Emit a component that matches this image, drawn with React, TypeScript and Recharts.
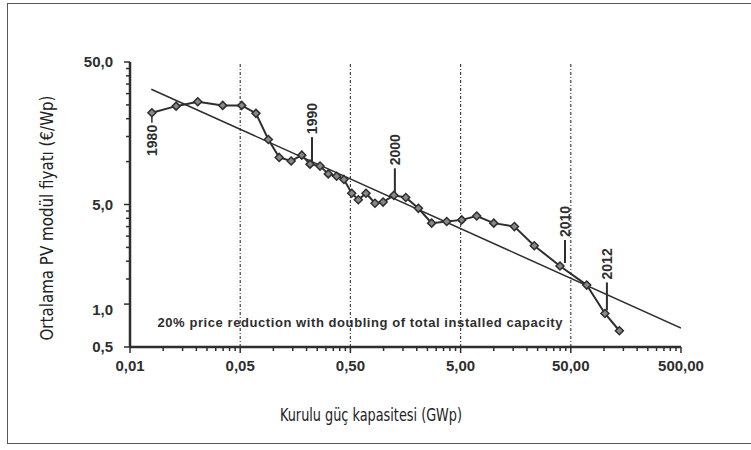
import React from "react";
import { LineChart, Line, XAxis, YAxis, ReferenceLine, LabelList } from "recharts";

// installed PV capacity (GWp) vs. average module price (€/Wp), 1980–2013
const years = [
  1980, 1981, 1982, 1983, 1984, 1985, 1986, 1987, 1988, 1989, 1990, 1991,
  1992, 1993, 1994, 1995, 1996, 1997, 1998, 1999, 2000, 2001, 2002, 2003,
  2004, 2005, 2006, 2007, 2008, 2009, 2010, 2011, 2012, 2013,
];
const capacity = [
  0.0079, 0.0131, 0.0206, 0.0347, 0.0516, 0.0695, 0.09, 0.113, 0.145, 0.181,
  0.215, 0.265, 0.315, 0.375, 0.437, 0.514, 0.59, 0.693, 0.836, 0.99, 1.24,
  1.59, 2.07, 2.73, 3.74, 5.12, 7.0, 10.0, 15.4, 23.3, 39.9, 69.7, 102, 138,
];
const price = [
  22.0, 24.5, 26.3, 24.8, 24.8, 21.8, 14.3, 10.7, 10.1, 11.1, 9.6, 9.3, 8.2,
  7.9, 7.5, 6.0, 5.4, 6.0, 5.1, 5.2, 5.8, 5.6, 4.7, 3.7, 3.8, 3.9, 4.15, 3.7,
  3.5, 2.57, 1.85, 1.36, 0.86, 0.65,
];

// learning-curve fit line
const trendCapacity = [0.0078, 500];
const trendPrice = [32.2, 0.68];

const xTicks = [
  0.005, 0.01, 0.015, 0.02, 0.025, 0.03, 0.035, 0.04, 0.045,
  0.05, 0.1, 0.15, 0.2, 0.25, 0.3, 0.35, 0.4, 0.45,
  0.5, 1, 1.5, 2, 2.5, 3, 3.5, 4, 4.5,
  5, 10, 15, 20, 25, 30, 35, 40, 45,
  50, 100, 150, 200, 250, 300, 350, 400, 450, 500,
];
const xMajor = [0.005, 0.05, 0.5, 5, 50, 500];
const xLabels = ["0,01", "0,05", "0,50", "5,00", "50,00", "500,00"];
const xGrid = [0.05, 0.5, 5, 50];

const yTicks = [
  0.5, 1, 1.5, 2, 2.5, 3, 3.5, 4, 4.5,
  5, 10, 15, 20, 25, 30, 35, 40, 45, 50,
];
const yMajor = [0.5, 1, 5, 50];
const yLabels = ["0,5", "1,0", "5,0", "50,0"];

const marked = [
  { year: 1980, above: false, dx: 0, gap: 12 },
  { year: 1990, above: true, dx: 2, gap: 30 },
  { year: 2000, above: true, dx: 1, gap: 30 },
  { year: 2010, above: true, dx: 5, gap: 29 },
  { year: 2012, above: true, dx: 2, gap: 34 },
];

const series = years.map((year, i) => ({ year, cap: capacity[i], price: price[i] }));
const trend = trendCapacity.map((cap, i) => ({ cap, price: trendPrice[i] }));

const INK = "#2e2e2e";
const TICK_FONT = "'Liberation Sans', Arial, sans-serif";
const TITLE_FONT = "'DejaVu Sans Condensed', 'Liberation Sans', sans-serif";

function XTick({ x, y, payload }: any) {
  const idx = xMajor.indexOf(payload.value);
  const major = idx >= 0;
  return (
    <g>
      <line x1={x} x2={x} y1={y} y2={y + (major ? 6 : 4)} stroke={INK} strokeWidth={1.5} />
      {major && (
        <text x={x} y={y + 24} textAnchor="middle" fill={INK}
          fontFamily={TICK_FONT} fontWeight="bold" fontSize={15}>
          {xLabels[idx]}
        </text>
      )}
    </g>
  );
}

function YTick({ x, y, payload }: any) {
  const idx = yMajor.indexOf(payload.value);
  const major = idx >= 0;
  return (
    <g>
      <line x1={x - (major ? 6 : 4)} x2={x} y1={y} y2={y} stroke={INK} strokeWidth={1.5} />
      {major && (
        <text x={x - 17} y={y + (payload.value === 1 ? 6 : 0)} dy="0.35em"
          textAnchor="end" fill={INK}
          fontFamily={TICK_FONT} fontWeight="bold" fontSize={15}>
          {yLabels[idx]}
        </text>
      )}
    </g>
  );
}

function Diamond({ cx, cy }: any) {
  if (cx == null || cy == null) return null;
  const r = 4;
  return (
    <path d={`M${cx},${cy - r}L${cx + r},${cy}L${cx},${cy + r}L${cx - r},${cy}Z`}
      fill="#888" stroke={INK} strokeWidth={1.5} />
  );
}

function YearLabel({ x, y, value }: any) {
  const m = marked.find((a) => a.year === value);
  if (!m) return null;
  const lx = x + m.dx;
  const ty = m.above ? y - m.gap : y + m.gap;
  return (
    <g>
      {m.above ? (
        <line x1={lx} x2={lx} y1={y - m.gap + 3} y2={y - 3} stroke={INK} strokeWidth={2} />
      ) : (
        <line x1={lx} x2={lx} y1={y + 4} y2={y + m.gap - 2} stroke={INK} strokeWidth={1.5} />
      )}
      <text x={lx} y={ty} dy="0.35em" textAnchor={m.above ? "start" : "end"}
        transform={`rotate(-90, ${lx}, ${ty})`} fill={INK}
        fontFamily={TICK_FONT} fontWeight="bold" fontSize={14}>
        {value}
      </text>
    </g>
  );
}

export default function App() {
  return (
    <div style={{ position: "absolute", left: 0, top: 0, width: 751, height: 450, overflow: "hidden", background: "#fff" }}>
      <div style={{ position: "absolute", left: 7, top: 3, width: 770, height: 439, border: "1.5px solid #555" }} />
      <LineChart width={751} height={450} margin={{ top: 62, right: 70, bottom: 63, left: 70 }}>
        <XAxis type="number" dataKey="cap" scale="log" domain={[0.005, 500]} allowDataOverflow
          ticks={xTicks} interval={0} tick={<XTick />} tickLine={false} tickSize={0} tickMargin={0}
          height={40} axisLine={{ stroke: INK, strokeWidth: 2.5 }} />
        <YAxis type="number" dataKey="price" scale="log" domain={[0.5, 50]} allowDataOverflow
          ticks={yTicks} interval={0} tick={<YTick />} tickLine={false} tickSize={0} tickMargin={0}
          width={60} axisLine={{ stroke: INK, strokeWidth: 2.5 }} />
        {xGrid.map((v) => (
          <ReferenceLine key={v} x={v} stroke="#444" strokeWidth={1.2} strokeDasharray="3 2 1 2" />
        ))}
        <Line data={trend} dataKey="price" stroke={INK} strokeWidth={1.5} dot={false}
          isAnimationActive={false} />
        <Line data={series} dataKey="price" stroke={INK} strokeWidth={2} dot={<Diamond />}
          isAnimationActive={false}>
          <LabelList dataKey="year" content={<YearLabel />} />
        </Line>
      </LineChart>
      <svg width={751} height={450} style={{ position: "absolute", left: 0, top: 0, pointerEvents: "none" }}>
        <text x={360} y={322} dy="0.35em" textAnchor="middle" fill={INK}
          fontFamily={TICK_FONT} fontWeight="bold" fontSize={13} textLength={405}
          lengthAdjust="spacing">
          20% price reduction with doubling of total installed capacity
        </text>
        <text x={371} y={415} dy="0.35em" textAnchor="middle" fill="#222"
          fontFamily={TITLE_FONT} fontSize={17} textLength={182} lengthAdjust="spacingAndGlyphs">
          Kurulu güç kapasitesi (GWp)
        </text>
        <text x={47} y={218} dy="0.35em" textAnchor="middle" fill="#222"
          transform="rotate(-90, 47, 218)" fontFamily={TITLE_FONT} fontSize={17}
          textLength={245} lengthAdjust="spacingAndGlyphs">
          Ortalama PV modül fiyatı (€/Wp)
        </text>
      </svg>
    </div>
  );
}
